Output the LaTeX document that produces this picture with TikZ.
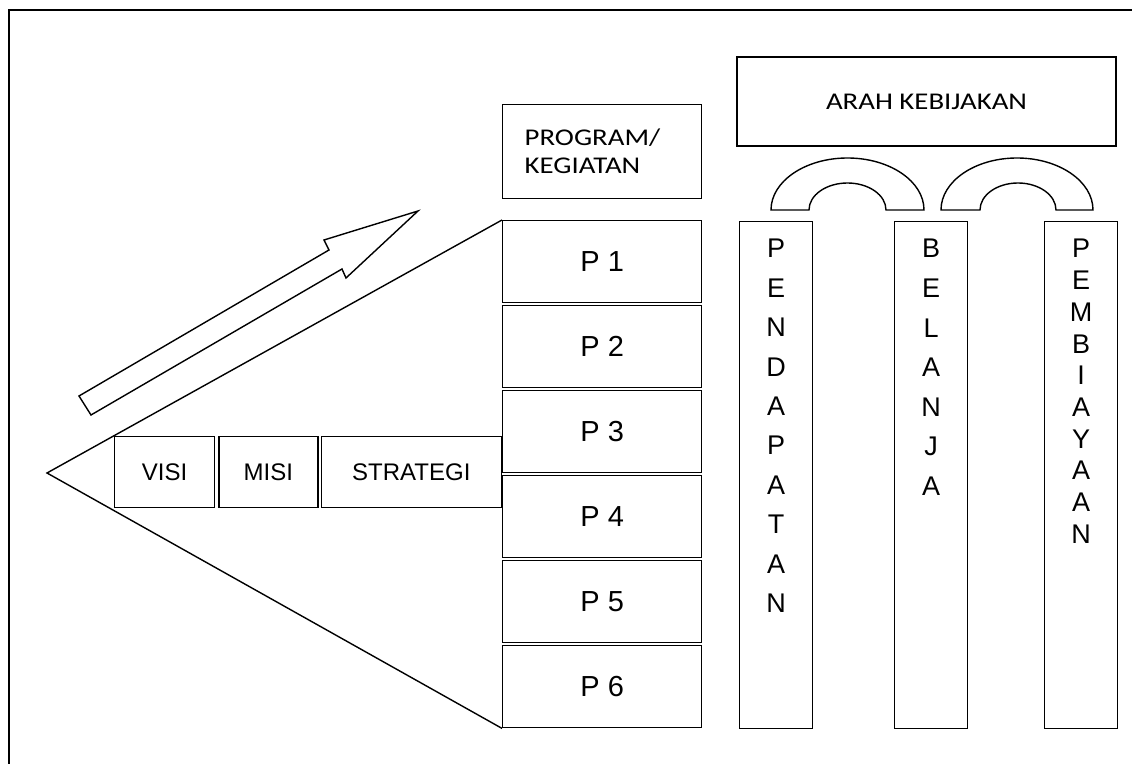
\documentclass[tikz,border=0pt]{standalone}
\usepackage{fontspec}
\setmainfont{Liberation Sans}
\newfontfamily\calibri[FakeStretch=1.2]{Carlito}
\usetikzlibrary{positioning}

\begin{document}
\begin{tikzpicture}[
    x=0.5pt, y=-0.5pt,
    kotak/.style={rectangle, draw, line width=0.7pt, fill=white, inner sep=0pt,
        font=\fontsize{12}{14}\selectfont},
    prog/.style={kotak, minimum width=99.5pt, minimum height=41pt,
        font=\fontsize{14.5}{16}\selectfont},
    vm/.style={kotak, minimum height=35.5pt},
    tegak/.style={kotak, minimum width=36.5pt, minimum height=253.5pt, anchor=north west},
    huruf/.style={inner sep=0pt, align=center},
    garis/.style={line width=0.7pt, line join=miter}
    ]
\useasboundingbox (0,0) rectangle (1132,764);
%frame
\draw[line width=1pt] (9,764) -- (9,10) -- (1132,10);

%triangle and arrow
\node[prog, anchor=north west] (p1) at (502,220) {P 1};
\foreach \i [remember=\i as \prev (initially 1)] in {2,...,6}
    \node[prog, below=0.8pt of p\prev] (p\i) {P \i};
\coordinate (puncak) at (47,473);
\draw[garis] (p1.north west) -- (puncak) -- (p6.south west);
\draw[garis] (79,396) -- (329,250) -- (324,240) -- (418,211) -- (346,278)
    -- (342,269) -- (91,415) -- cycle;

%visi misi strategi
\node[vm, minimum width=90pt, anchor=south east] (strategi) at (502,508) {STRATEGI};
\node[vm, minimum width=49.5pt, left=1pt of strategi] (misi) {MISI};
\node[vm, minimum width=50pt, left=1.5pt of misi] (visi) {VISI};

\node[kotak, text width=77.5pt, inner xsep=11pt, minimum height=47pt, align=left,
    font=\calibri\fontsize{12}{14}\selectfont, above=10.5pt of p1] (program)
    {PROGRAM/\\KEGIATAN};

%arah kebijakan
\node[kotak, minimum width=189.5pt, minimum height=44.5pt,
    font=\calibri\fontsize{12}{14}\selectfont] (arah) at (926.5,101.5) {ARAH KEBIJAKAN};

%columns
\node[tegak] (pend) at (739,221) {};
\node[tegak] (bel) at (894,221) {};
\node[tegak] (pemb) at (1044,221) {};
\node[huruf, font=\fontsize{13.5}{19.7}\selectfont, below=9pt of pend.north] (tpend)
    {P\\E\\N\\D\\A\\P\\A\\T\\A\\N};
\node[huruf, font=\fontsize{13.5}{19.8}\selectfont, below=9pt of bel.north] (tbel)
    {B\\E\\L\\A\\N\\J\\A};
\node[huruf, font=\fontsize{13.5}{15.85}\selectfont, below=9pt of pemb.north] (tpemb)
    {P\\E\\M\\B\\I\\A\\Y\\A\\A\\N};

%arches
\draw[garis] (771,210) arc[start angle=180, end angle=0, x radius=38.25pt, y radius=26pt]
    -- (886,210) arc[start angle=0, end angle=180, x radius=19.25pt, y radius=13.5pt] -- cycle;
\draw[garis] (941,210) arc[start angle=180, end angle=0, x radius=38pt, y radius=26pt]
    -- (1056,210) arc[start angle=0, end angle=180, x radius=19pt, y radius=13.5pt] -- cycle;
\end{tikzpicture}
\end{document}
